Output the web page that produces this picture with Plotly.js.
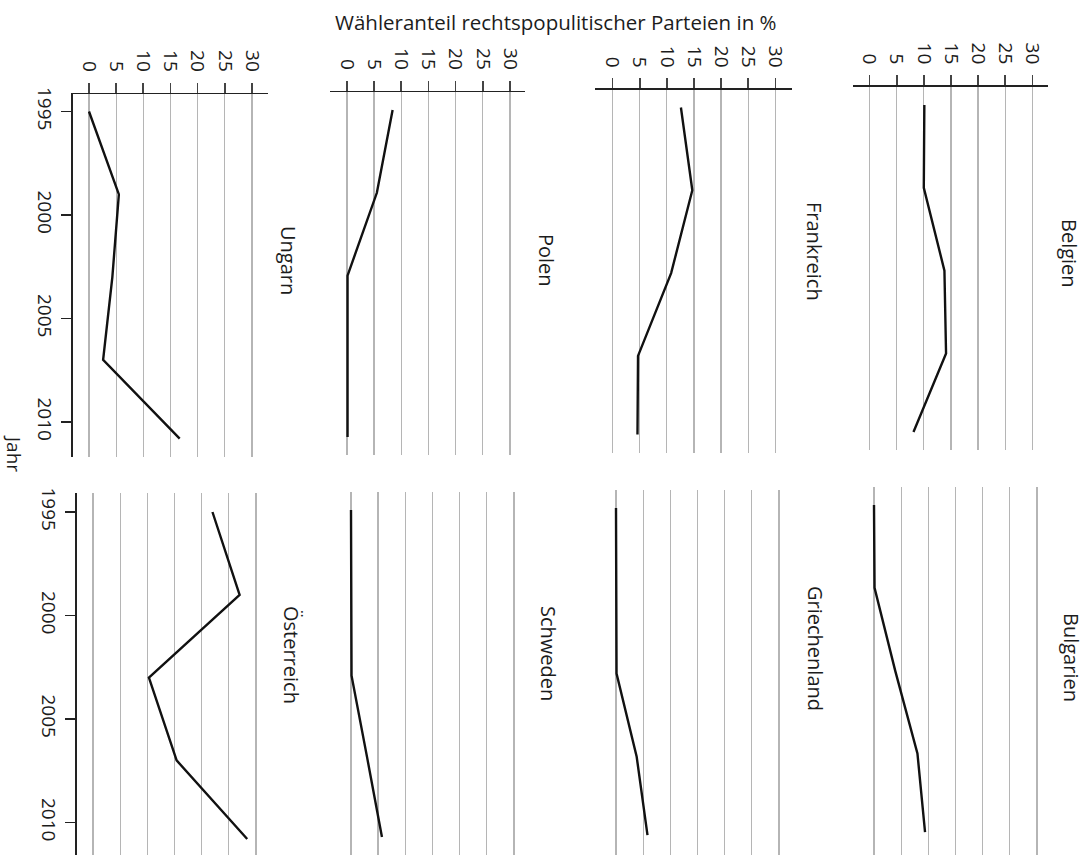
<!DOCTYPE html>
<html>
<head>
<meta charset="utf-8">
<script src="https://cdn.plot.ly/plotly-3.0.1.min.js"></script>
<style>
html,body{margin:0;padding:0;background:#fff;}
#chart{width:1086px;height:855px;}
</style>
</head>
<body>
<div id="chart"></div>
<script>
// ---- data ----
const years = [1995, 1999, 2003, 2007, 2010.8];
const countries = ["Ungarn", "Polen", "Frankreich", "Belgien", "Österreich", "Schweden", "Griechenland", "Bulgarien"];
const ungarn       = [0, 5.5, 4.3, 2.6, 16.7];
const polen        = [8.4, 5.5, 0.1, 0.1, 0.1];
const frankreich   = [12.6, 14.7, 10.8, 4.7, 4.6];
const belgien      = [10.1, 10.0, 13.8, 14.1, 8.1];
const oesterreich  = [22.0, 27.0, 10.3, 15.4, 28.4];
const schweden     = [0, 0, 0.1, 3.0, 5.7];
const griechenland = [0, 0, 0.1, 3.8, 5.8];
const bulgarien    = [0, 0.1, 3.9, 8.0, 9.4];
const valueTicks = [0, 5, 10, 15, 20, 25, 30];
const yearTicks = [1995, 2000, 2005, 2010];
const axisTitleX = "Wähleranteil rechtspopulitischer Parteien in %";
const axisTitleY = "Jahr";

const series = [ungarn, polen, frankreich, belgien, oesterreich, schweden, griechenland, bulgarien];

// ---- layout geometry (pixels) ----
const W = 1086, H = 855;
const S = 5.43;   // px per percentage point
const YS = 20.7;  // px per year
const panels = [
  {x0: 89,    L: 72.7, R: 268,   T: 94.3, B: 457, P: 111.5, top: true,  yaxis: true,  lx: 289,  ly: 260},
  {x0: 347,   L: 330,  R: 525,   T: 92.3, B: 455, P: 110,   top: true,  yaxis: false, lx: 547,  ly: 260},
  {x0: 612.5, L: 595,  R: 791.7, T: 90,   B: 452.5, P: 107.5, top: true, yaxis: false, lx: 814, ly: 251},
  {x0: 869.5, L: 853.3,R: 1048.3,T: 86.7, B: 450, P: 105,   top: true,  yaxis: false, lx: 1070, ly: 253},
  {x0: 93,    L: 76.5, R: 272,   T: 493,  B: 855, P: 512,   top: false, yaxis: true,  lx: 292,  ly: 655},
  {x0: 351,   L: 334,  R: 528,   T: 491.7,B: 855, P: 510,   top: false, yaxis: false, lx: 549,  ly: 653},
  {x0: 616,   L: 599,  R: 795,   T: 490,  B: 855, P: 508,   top: false, yaxis: false, lx: 816,  ly: 648},
  {x0: 874,   L: 857,  R: 1052,  T: 487,  B: 855, P: 505,   top: false, yaxis: false, lx: 1072, ly: 657}
];

const FONT = '"Open Sans", "Noto Sans", sans-serif';
const TXT = '#1c1c1c';

const px = v => v / W;
const py = v => 1 - v / H;

const traces = [];
const layout = {
  width: W, height: H,
  margin: {l: 0, r: 0, t: 0, b: 0},
  paper_bgcolor: '#fff', plot_bgcolor: 'rgba(0,0,0,0)',
  showlegend: false,
  font: {family: FONT, color: TXT, size: 18},
  annotations: []
};

panels.forEach((p, i) => {
  const n = i + 1;
  const xa = n === 1 ? 'xaxis' : 'xaxis' + n;
  const ya = n === 1 ? 'yaxis' : 'yaxis' + n;
  const xr = n === 1 ? 'x' : 'x' + n;
  const yr = n === 1 ? 'y' : 'y' + n;

  traces.push({
    x: series[i], y: years, xaxis: xr, yaxis: yr,
    type: 'scatter', mode: 'lines',
    line: {color: '#111', width: 2.4},
    hoverinfo: 'skip'
  });

  layout[xa] = {
    domain: [px(p.L), px(p.R)],
    range: [-(p.x0 - p.L) / S, (p.R - p.x0) / S],
    anchor: yr,
    side: 'top',
    tickvals: valueTicks,
    ticktext: valueTicks.map(String),
    showgrid: true, gridcolor: '#b5b5b5', gridwidth: 1.3,
    zeroline: false,
    showline: p.top, linecolor: '#222', linewidth: 1.8,
    ticks: p.top ? 'outside' : '', ticklen: 10, tickwidth: 1.7, tickcolor: '#444',
    showticklabels: p.top,
    ticklabelstandoff: 4,
    tickangle: 90,
    tickfont: {family: FONT, size: 19, color: TXT},
    fixedrange: true
  };
  layout[ya] = {
    domain: [py(p.B), py(p.T)],
    range: [1995 + (p.B - p.P) / YS, 1995 - (p.P - p.T) / YS],
    anchor: xr,
    visible: p.yaxis,
    tickvals: yearTicks,
    ticktext: yearTicks.map(String),
    showgrid: false, zeroline: false,
    showline: true, linecolor: '#222', linewidth: 1.8,
    ticks: 'outside', ticklen: 10, tickwidth: 1.7, tickcolor: '#222',
    tickangle: 90,
    tickfont: {family: FONT, size: 19, color: TXT},
    fixedrange: true
  };

  layout.annotations.push({
    text: countries[i], xref: 'paper', yref: 'paper',
    x: px(p.lx), y: py(p.ly), xanchor: 'center', yanchor: 'middle',
    textangle: 90, showarrow: false,
    font: {family: FONT, size: 20, color: TXT}
  });
});

layout.annotations.push({
  text: axisTitleX, xref: 'paper', yref: 'paper',
  x: px(556), y: py(22), xanchor: 'center', yanchor: 'middle',
  showarrow: false, font: {family: FONT, size: 20.5, color: TXT}
});
layout.annotations.push({
  text: axisTitleY, xref: 'paper', yref: 'paper',
  x: px(14), y: py(453), xanchor: 'center', yanchor: 'middle',
  textangle: 90, showarrow: false, font: {family: FONT, size: 19, color: TXT}
});

Plotly.newPlot('chart', traces, layout, {staticPlot: true, displayModeBar: false});
</script>
</body>
</html>
